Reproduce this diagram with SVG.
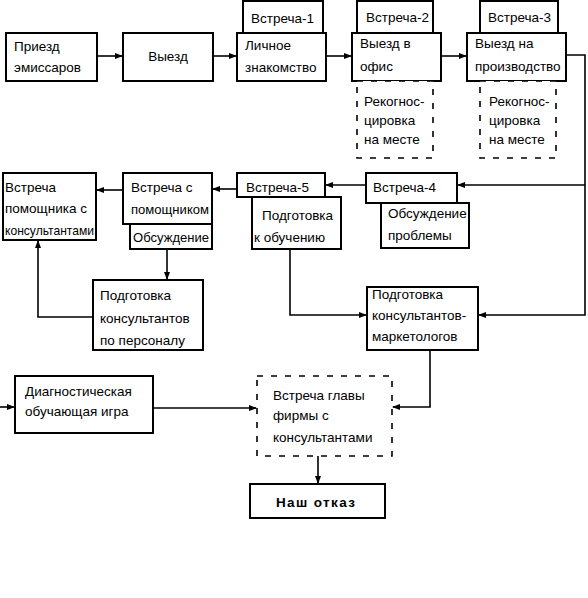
<svg xmlns="http://www.w3.org/2000/svg" width="588" height="598" viewBox="0 0 588 598">
<style>
.b{fill:#fff;stroke:#000;stroke-width:2}
.d{fill:#fff;stroke:#000;stroke-width:1.6;stroke-dasharray:6,8}
.c{fill:none;stroke:#000;stroke-width:1.6}
text{font-family:"Liberation Sans",Arial,sans-serif;font-size:13.5px;fill:#000}
.k{font-weight:bold}
</style>
<defs>
<marker id="a" markerWidth="8" markerHeight="6" refX="7" refY="3" orient="auto" markerUnits="userSpaceOnUse">
<path d="M0,0 L8,3 L0,6 Z" fill="#000"/>
</marker>
</defs>
<rect width="588" height="598" fill="#fff"/>
<g id="connectors">
<line class="c" x1="97" y1="56" x2="122" y2="56" marker-end="url(#a)"/>
<line class="c" x1="213" y1="56" x2="236" y2="56" marker-end="url(#a)"/>
<line class="c" x1="326" y1="56" x2="351" y2="56" marker-end="url(#a)"/>
<line class="c" x1="441" y1="56" x2="466" y2="56" marker-end="url(#a)"/>
<polyline class="c" points="566,55 585,55 585,315 479,315" marker-end="url(#a)"/>
<line class="c" x1="585" y1="185" x2="458" y2="185" marker-end="url(#a)"/>
<line class="c" x1="366" y1="185" x2="326" y2="185" marker-end="url(#a)"/>
<line class="c" x1="237" y1="189" x2="213" y2="189" marker-end="url(#a)"/>
<line class="c" x1="123" y1="190" x2="97" y2="190" marker-end="url(#a)"/>
<line class="c" x1="167" y1="250" x2="167" y2="279" marker-end="url(#a)"/>
<polyline class="c" points="93,317 38,317 38,241" marker-end="url(#a)"/>
<polyline class="c" points="290,249 290,315 366,315" marker-end="url(#a)"/>
<polyline class="c" points="430,350 430,407 393,407" marker-end="url(#a)"/>
<line class="c" x1="0" y1="407" x2="14" y2="407" marker-end="url(#a)"/>
<line class="c" x1="153" y1="408" x2="256" y2="408" marker-end="url(#a)"/>
<line class="c" x1="318" y1="456" x2="318" y2="483" marker-end="url(#a)"/>
</g>
<g id="priezd"><rect class="b" x="6" y="33" width="91" height="48"/><text x="14" y="51">Приезд</text><text x="14" y="72">эмиссаров</text></g>
<g id="vyezd"><rect class="b" x="123" y="33" width="90" height="48"/><text x="168" y="61" text-anchor="middle">Выезд</text></g>
<g id="vstrecha1"><rect class="b" x="243" y="1" width="80" height="32"/><text x="251" y="23">Встреча-1</text></g>
<g id="lichnoe"><rect class="b" x="237" y="33" width="89" height="48"/><text x="245" y="50">Личное</text><text x="245" y="72">знакомство</text></g>
<g id="vstrecha2"><rect class="b" x="357" y="1" width="76" height="32"/><text x="366" y="22">Встреча-2</text></g>
<g id="ofis"><rect class="b" x="352" y="33" width="89" height="48"/><text x="360" y="48">Выезд в</text><text x="360" y="71">офис</text></g>
<g id="rekog1"><rect class="d" x="357" y="81" width="76" height="77"/><text x="364" y="106">Рекогнос-</text><text x="364" y="125">цировка</text><text x="364" y="144">на месте</text></g>
<g id="vstrecha3"><rect class="b" x="480" y="1" width="78" height="32"/><text x="488" y="22">Встреча-3</text></g>
<g id="proizv"><rect class="b" x="467" y="33" width="99" height="48"/><text x="475" y="48">Выезд на</text><text x="475" y="71">производство</text></g>
<g id="rekog2"><rect class="d" x="480" y="81" width="76" height="77"/><text x="489" y="106">Рекогнос-</text><text x="489" y="125">цировка</text><text x="489" y="144">на месте</text></g>
<g id="vpomk"><rect class="b" x="3" y="173" width="93" height="67"/><text x="5" y="192">Встреча</text><text x="5" y="213">помощника с</text><text x="5" y="235" textLength="89" lengthAdjust="spacingAndGlyphs">консультантами</text></g>
<g id="vpom"><rect class="b" x="123" y="173" width="89" height="51"/><text x="131" y="192">Встреча с</text><text x="131" y="214" textLength="78" lengthAdjust="spacingAndGlyphs">помощником</text></g>
<g id="obsuzh"><rect class="b" x="130" y="224" width="82" height="25"/><text x="133" y="242" textLength="76" lengthAdjust="spacingAndGlyphs">Обсуждение</text></g>
<g id="vstrecha5"><rect class="b" x="237" y="173" width="88" height="24"/><text x="246" y="192">Встреча-5</text></g>
<g id="podgobuch"><rect class="b" x="252" y="197" width="89" height="52"/><text x="262" y="220">Подготовка</text><text x="254" y="242">к обучению</text></g>
<g id="vstrecha4"><rect class="b" x="366" y="173" width="91" height="30"/><text x="373" y="192">Встреча-4</text></g>
<g id="obsprob"><rect class="b" x="381" y="203" width="88" height="45"/><text x="388" y="218">Обсуждение</text><text x="388" y="240">проблемы</text></g>
<g id="podgpers"><rect class="b" x="93" y="280" width="110" height="70"/><text x="100" y="300">Подготовка</text><text x="100" y="323">консультантов</text><text x="100" y="345">по персоналу</text></g>
<g id="podgmark"><rect class="b" x="367" y="287" width="111" height="63"/><text x="372" y="299">Подготовка</text><text x="372" y="320">консультантов-</text><text x="372" y="341">маркетологов</text></g>
<g id="diag"><rect class="b" x="15" y="376" width="138" height="57"/><text x="25" y="396">Диагностическая</text><text x="25" y="416">обучающая игра</text></g>
<g id="glava"><rect class="d" x="257" y="376" width="135" height="80"/><text x="273" y="400">Встреча главы</text><text x="273" y="420">фирмы с</text><text x="273" y="442">консультантами</text></g>
<g id="otkaz"><rect class="b" x="250" y="484" width="135" height="34"/><text class="k" x="276" y="507" textLength="79" lengthAdjust="spacing">Наш  отказ</text></g>
</svg>
